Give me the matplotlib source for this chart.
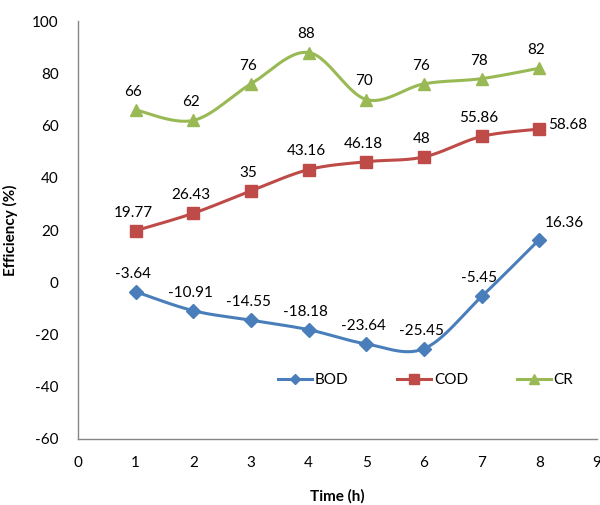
import numpy as np
import matplotlib.pyplot as plt

plt.rcParams['font.family'] = ['Lato', 'DejaVu Sans']
plt.rcParams['axes.unicode_minus'] = False

time_h = [1, 2, 3, 4, 5, 6, 7, 8]
bod = [-3.64, -10.91, -14.55, -18.18, -23.64, -25.45, -5.45, 16.36]
cod = [19.77, 26.43, 35, 43.16, 46.18, 48, 55.86, 58.68]
cr = [66, 62, 76, 88, 70, 76, 78, 82]

series = [
    ("BOD", bod, "#4A7EBB", "D", 7),
    ("COD", cod, "#BE4B48", "s", 8.5),
    ("CR", cr, "#98B954", "^", 9),
]


def smooth(x, y, n=30):
    # Bezier curve through each point, like the spreadsheet "smoothed line"
    x = np.asarray(x, float)
    y = np.asarray(y, float)
    px = np.concatenate([[x[0]], x, [x[-1]]])
    py = np.concatenate([[y[0]], y, [y[-1]]])
    xs, ys = [], []
    t = np.linspace(0, 1, n)
    for i in range(1, len(x)):
        p0 = np.array([px[i], py[i]])
        p3 = np.array([px[i + 1], py[i + 1]])
        p1 = p0 + (p3 - np.array([px[i - 1], py[i - 1]])) / 6
        p2 = p3 - (np.array([px[i + 2], py[i + 2]]) - p0) / 6
        b = ((1 - t) ** 3)[:, None] * p0 + (3 * (1 - t) ** 2 * t)[:, None] * p1 \
            + (3 * (1 - t) * t ** 2)[:, None] * p2 + (t ** 3)[:, None] * p3
        xs.extend(b[:, 0])
        ys.extend(b[:, 1])
    return xs, ys


fig = plt.figure(figsize=(6, 5.05), dpi=100)
ax = fig.add_axes([0.13, 0.131, 0.865, 0.827])

for name, vals, col, mk, ms in series:
    sx, sy = smooth(time_h, vals)
    ax.plot(sx, sy, color=col, lw=2.2, zorder=2)
    ax.plot(time_h, vals, linestyle='none', marker=mk, ms=ms, color=col, zorder=3)
    ax.plot([], [], color=col, lw=2.2, marker=mk, ms=ms * 0.8, label=name)

fs = 11
for v, t in zip(bod, time_h):
    dx, dy, ha = -2, 8, 'center'
    if t == 8:
        dx, dy, ha = 4, 7, 'left'
    ax.annotate(f"{v:g}", (t, v), xytext=(dx, dy), textcoords='offset points',
                ha=ha, va='bottom', fontsize=fs)
for v, t in zip(cod, time_h):
    dx, dy, ha, va = -2, 8, 'center', 'bottom'
    if t == 8:
        dx, dy, ha, va = 6, 3, 'left', 'center'
    ax.annotate(f"{v:g}", (t, v), xytext=(dx, dy), textcoords='offset points',
                ha=ha, va=va, fontsize=fs)
for v, t in zip(cr, time_h):
    ax.annotate(f"{v:g}", (t, v), xytext=(-2, 8), textcoords='offset points',
                ha='center', va='bottom', fontsize=fs)

ax.set_xlim(0, 9)
ax.set_ylim(-60, 100)
ax.set_xticks(range(0, 10))
ax.set_yticks(range(-60, 101, 20))
ax.tick_params(length=0, labelsize=fs, pad=12)
ax.tick_params(axis='y', pad=14)
for s in ['top', 'right']:
    ax.spines[s].set_visible(False)
for s in ['left', 'bottom']:
    ax.spines[s].set_color('#868686')
    ax.spines[s].set_linewidth(1)

ax.set_xlabel("Time (h)", fontweight='bold', fontsize=fs, labelpad=14)
ax.set_ylabel("Efficiency (%)", fontweight='bold', fontsize=fs, labelpad=10)

ax.legend(loc='center', bbox_to_anchor=(0.67, 0.14), ncol=3, frameon=False,
          fontsize=fs, handlelength=2.2, columnspacing=3.2, handletextpad=0.2)

fig.savefig("out.png", dpi=100)
